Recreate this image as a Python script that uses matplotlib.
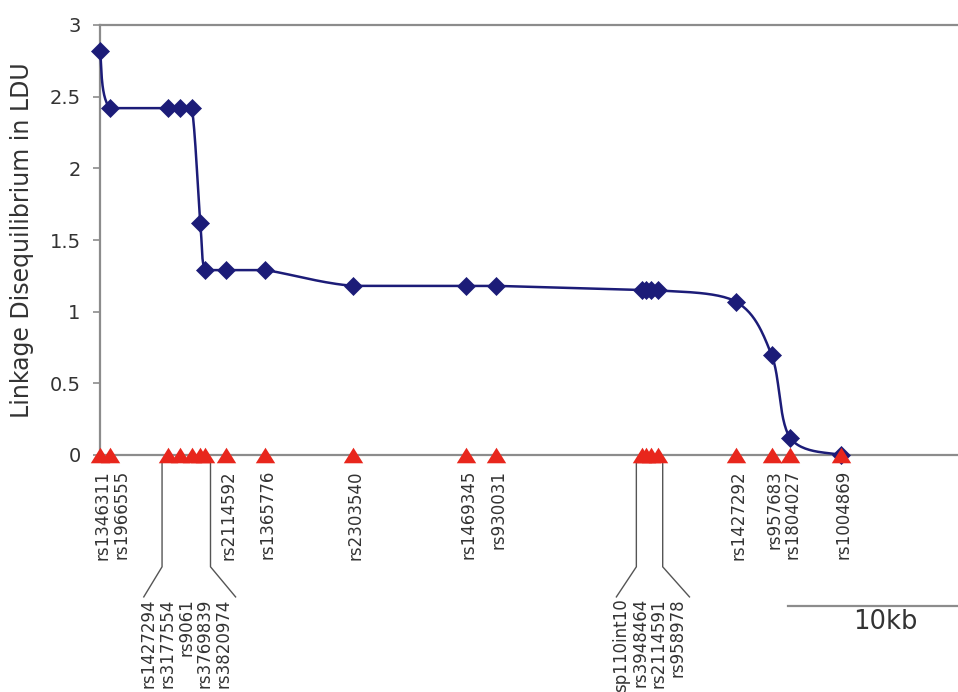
import numpy as np
import matplotlib
matplotlib.use("Agg")
import matplotlib.pyplot as plt

# SNP positions (kb from first marker) and LD map values (LDU)
snps = ['rs1346311', 'rs1966555', 'rs1427294', 'rs3177554', 'rs9061',
        'rs3769839', 'rs3820974', 'rs2114592', 'rs1365776', 'rs2303540',
        'rs1469345', 'rs930031', 'sp110int10', 'rs3948464', 'rs2114591',
        'rs958978', 'rs1427292', 'rs957683', 'rs1804027', 'rs1004869']
pos_kb = [0.0, 0.6, 4.0, 4.7, 5.4, 5.9, 6.2, 7.4, 9.7, 14.9,
          21.5, 23.3, 31.9, 32.1, 32.4, 32.8, 37.4, 39.5, 40.6, 43.6]
ldu = [2.82, 2.42, 2.42, 2.42, 2.42, 1.62, 1.29, 1.29, 1.29, 1.18,
       1.18, 1.18, 1.15, 1.15, 1.15, 1.15, 1.07, 0.70, 0.12, 0.0]
groups = [[2, 3, 4, 5, 6], [12, 13, 14, 15]]

yticks = [0, 0.5, 1, 1.5, 2, 2.5, 3]
yticklabels = ['0', '0.5', '1', '1.5', '2', '2.5', '3']

navy = '#1c1c78'
red = '#e8261c'
grey = '#8c8c8c'
txt = '#333333'


def smooth(x, y, n=30):
    # bezier smoothing through the points, control points kept inside each segment
    x = np.asarray(x, float)
    y = np.asarray(y, float)
    px = np.concatenate([[x[0]], x, [x[-1]]])
    py = np.concatenate([[y[0]], y, [y[-1]]])
    t = np.linspace(0, 1, n)
    xs, ys = [], []
    for i in range(1, len(px) - 2):
        p0 = np.array([px[i], py[i]])
        p3 = np.array([px[i + 1], py[i + 1]])
        c1 = p0 + (p3 - np.array([px[i - 1], py[i - 1]])) / 6
        c2 = p3 - (np.array([px[i + 2], py[i + 2]]) - p0) / 6
        lo = np.minimum(p0, p3)
        hi = np.maximum(p0, p3)
        c1 = np.clip(c1, lo, hi)
        c2 = np.clip(c2, lo, hi)
        b = ((1 - t) ** 3)[:, None] * p0 + (3 * (1 - t) ** 2 * t)[:, None] * c1 \
            + (3 * (1 - t) * t ** 2)[:, None] * c2 + (t ** 3)[:, None] * p3
        xs.append(b[:, 0])
        ys.append(b[:, 1])
    return np.concatenate(xs), np.concatenate(ys)


fig = plt.figure(figsize=(9.58, 6.92), dpi=100)
ax = fig.add_axes([100 / 958, 237 / 692, 858 / 958, 430 / 692])

sx, sy = smooth(pos_kb, ldu)
ax.plot(sx, sy, color=navy, lw=1.8, zorder=3, clip_on=False)
ax.plot(pos_kb, ldu, 'D', color=navy, ms=9, mew=0.5, zorder=4, clip_on=False)

tri = [(-1, -0.8), (1, -0.8), (0, 0.8)]
ax.plot(pos_kb, np.zeros(len(pos_kb)), linestyle='none', marker=tri,
        color=red, ms=14, mew=0, zorder=5, clip_on=False)

ax.set_xlim(0, 858 / 17)
ax.set_ylim(0, 3)
ax.set_yticks(yticks)
ax.set_yticklabels(yticklabels)
ax.set_xticks([])
ax.tick_params(axis='y', direction='out', length=5, width=1.2, color=grey,
               labelsize=14, labelcolor=txt, pad=9)
for s in ['left', 'bottom', 'top']:
    ax.spines[s].set_color(grey)
    ax.spines[s].set_linewidth(1.6)
ax.spines['right'].set_visible(False)
ax.set_ylabel('Linkage Disequilibrium in LDU', fontsize=17, color=txt, labelpad=11)

# marker names below the axis
trans = ax.get_xaxis_transform()
grouped = [i for g in groups for i in g]
step = 1.1
last = -10
for i, name in enumerate(snps):
    if i in grouped:
        continue
    lx = max(pos_kb[i], last + step)
    last = lx
    ax.text(lx + 0.15, -0.035, name, rotation=90, ha='center', va='top',
            fontsize=12, color=txt, transform=trans)

for g in groups:
    left = pos_kb[g[0]] - 0.35
    right = pos_kb[g[-1]] + 0.3
    mid = (left + right) / 2
    lx = [mid + (k - (len(g) - 1) / 2) * step for k in range(len(g))]
    for k, i in enumerate(g):
        ax.text(lx[k], -0.333, snps[i], rotation=90, ha='center', va='top',
                fontsize=12, color=txt, transform=trans, clip_on=False)
    ax.plot([left, left, lx[0] - 0.3], [-0.016, -0.26, -0.33], color='#555555',
            lw=1, transform=trans, clip_on=False)
    ax.plot([right, right, lx[-1] + 0.7], [-0.016, -0.26, -0.33], color='#555555',
            lw=1, transform=trans, clip_on=False)

# 10 kb scale bar
fig.add_artist(plt.Line2D([788 / 958, 1.0], [1 - 606 / 692, 1 - 606 / 692],
                          color=grey, lw=1.6))
fig.text(885 / 958, 1 - 622 / 692, '10kb', fontsize=18.5, color=txt,
         ha='center', va='center')

fig.savefig('out.png', dpi=100)
